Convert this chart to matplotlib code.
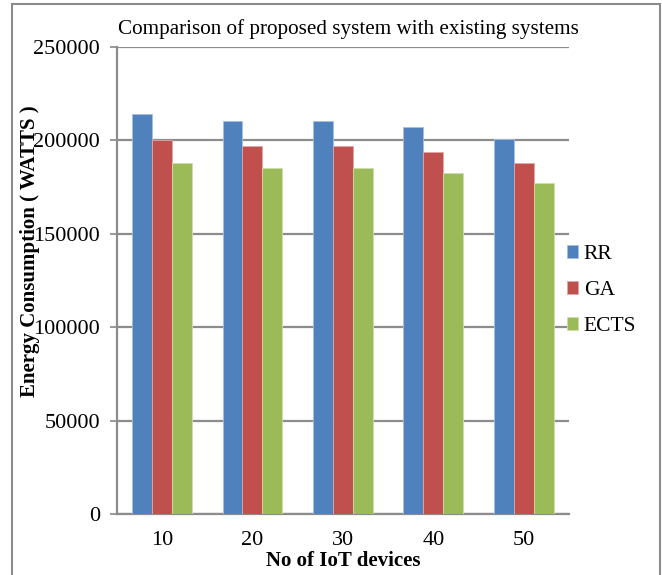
import matplotlib
matplotlib.use("Agg")
import matplotlib.pyplot as plt
import numpy as np
from matplotlib.patches import Rectangle

# data
devices = ["10", "20", "30", "40", "50"]
rr = [214000, 210500, 210500, 207000, 201000]
ga = [200000, 197000, 197000, 194000, 188000]
ects = [188000, 185000, 185000, 182500, 177000]
series_names = ["RR", "GA", "ECTS"]
y_ticks = [0, 50000, 100000, 150000, 200000, 250000]

plt.rcParams['font.family'] = ['Liberation Serif', 'DejaVu Serif']

W, H = 662, 575
fig = plt.figure(figsize=(W / 100, H / 100), dpi=100)
ax = fig.add_axes([116.7 / W, 61 / H, (569 - 116.7) / W, (514 - 47) / H])

colors = ["#4F81BD", "#C0504D", "#9BBB59"]
edges = ["#A7C0DE", "#E0A8A6", "#CDDDAC"]
x = np.arange(len(devices))
bw = 0.22
for i, (vals, name) in enumerate(zip([rr, ga, ects], series_names)):
    ax.bar(x + (i - 1) * bw, vals, bw, color=colors[i], edgecolor=edges[i],
           linewidth=0.6, label=name, zorder=3)

ax.set_xlim(-0.5, len(devices) - 0.5)
ax.set_ylim(0, 250000)
ax.set_yticks(y_ticks)
ax.set_xticks(x)
ax.set_xticklabels(devices)
ax.tick_params(axis='both', labelsize=16, colors='black')
ax.tick_params(axis='y', length=5, width=1.2, color='#888888', pad=7)
ax.tick_params(axis='x', length=0, pad=12)

ax.grid(axis='y', color='#8c8c8c', linewidth=1.6, zorder=0)
for s in ['top', 'right']:
    ax.spines[s].set_visible(False)
for s in ['left', 'bottom']:
    ax.spines[s].set_color('#8c8c8c')
    ax.spines[s].set_linewidth(1.6)

ax.set_xlabel("No of IoT devices", fontsize=15, fontweight='bold', labelpad=1)
fig.text(30 / W, 1 - 251 / H, "Energy Consumption ( WATTS )", rotation=90,
         fontsize=15, fontweight='bold', ha='center', va='center')
fig.text(348 / W, 1 - 29 / H, "Comparison of proposed system with existing systems",
         fontsize=15.2, ha='center', va='center')

ax.legend(loc='upper left', bbox_to_anchor=(558 / W, 1 - 236 / H),
          bbox_transform=fig.transFigure, frameon=False, fontsize=15.5,
          handlelength=0.55, handleheight=0.55, handletextpad=0.25,
          labelspacing=0.8, borderaxespad=0)

fig.patches.append(Rectangle((12 / W, -0.05), (660 - 12) / W, 1.05 - 4 / H,
                             transform=fig.transFigure, fill=False,
                             edgecolor='#8c8c8c', linewidth=1.5))

fig.savefig("out.png", dpi=100)
